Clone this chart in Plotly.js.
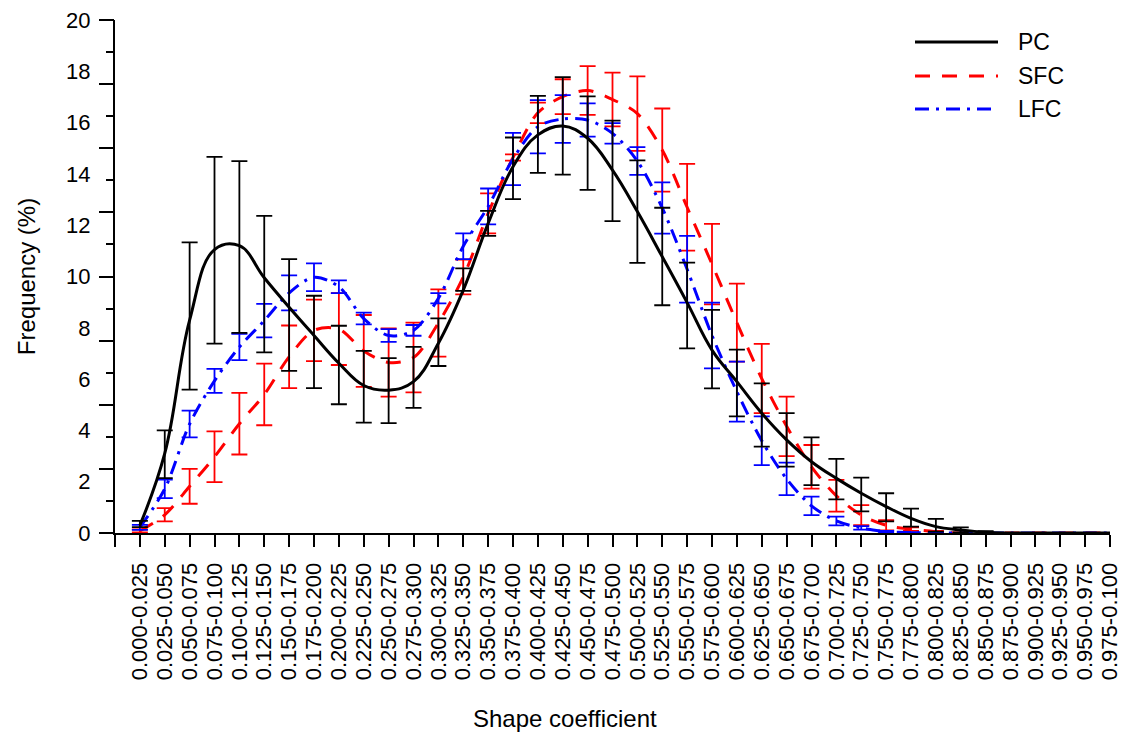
<!DOCTYPE html>
<html>
<head>
<meta charset="utf-8">
<script src="https://cdn.plot.ly/plotly-3.0.1.min.js"></script>
<style>
html,body{margin:0;padding:0;background:#fff;}
#chart{width:1126px;height:733px;}
</style>
</head>
<body>
<div id="chart"></div>
<script>
// Category labels (shape coefficient bins)
const categories = [
  "0.000-0.025","0.025-0.050","0.050-0.075","0.075-0.100","0.100-0.125",
  "0.125-0.150","0.150-0.175","0.175-0.200","0.200-0.225","0.225-0.250",
  "0.250-0.275","0.275-0.300","0.300-0.325","0.325-0.350","0.350-0.375",
  "0.375-0.400","0.400-0.425","0.425-0.450","0.450-0.475","0.475-0.500",
  "0.500-0.525","0.525-0.550","0.550-0.575","0.575-0.600","0.600-0.625",
  "0.625-0.650","0.650-0.675","0.675-0.700","0.700-0.725","0.725-0.750",
  "0.750-0.775","0.775-0.800","0.800-0.825","0.825-0.850","0.850-0.875",
  "0.875-0.900","0.900-0.925","0.925-0.950","0.950-0.975","0.975-0.100"
];

// PC series: mean frequency (%) with error, and the fitted smooth curve
const pcMean = [0.35,3.07,8.46,11.02,11.15,9.7,8.5,7.45,6.55,5.7,
                5.55,6.07,7.44,9.88,12.07,14.22,15.54,15.87,15.2,14.12,
                12.53,10.78,8.87,7.17,5.85,4.6,3.63,2.8,2.1,1.5,
                1.0,0.6,0.3,0.12,0.04,0,0,0,0,0];
const pcErr  = [0.12,0.93,2.87,3.64,3.35,2.66,2.18,1.8,1.53,1.4,
                1.27,1.19,0.93,0.44,0.49,1.2,1.5,1.9,1.82,1.96,
                2.0,1.9,1.67,1.53,1.3,1.23,1.04,0.93,0.79,0.66,
                0.55,0.35,0.25,0.1,0.03,0,0,0,0,0];
const pcCurve = [0.3,3.1,8.3,11.05,11.2,9.95,8.8,7.7,6.62,5.75,
                 5.57,5.9,7.4,9.47,12.07,14.28,15.52,15.87,15.39,14.15,
                 12.53,10.77,8.98,7.13,5.9,4.67,3.63,2.78,2.13,1.55,
                 1.03,0.57,0.25,0.12,0.03,0,0,0,0,0];

// SFC series
const sfcMean = [0.08,0.71,1.82,2.97,4.26,5.4,6.87,7.9,7.95,7.1,
                 6.65,6.84,8.19,9.98,12.46,14.64,16.38,17.01,17.25,16.9,
                 16.35,14.93,12.7,10.48,8.2,6.02,4.16,2.58,1.45,0.7,
                 0.3,0.15,0.05,0,0,0,0,0,0,0];
const sfcErr  = [0.06,0.26,0.68,0.99,1.2,1.2,1.22,1.2,1.4,1.4,
                 1.33,1.36,1.31,0.68,0.78,0.12,0.4,0.68,0.95,1.05,
                 1.45,1.62,1.69,1.57,1.52,1.35,1.16,0.85,0.62,0.39,
                 0.2,0.07,0.03,0,0,0,0,0,0,0];

// LFC series
const lfcMean = [0.22,1.72,4.25,5.93,7.25,8.28,9.36,9.97,9.6,8.36,
                 7.7,7.9,9.15,11.18,12.73,14.58,15.84,16.14,16.1,15.58,
                 14.5,12.67,10.28,7.7,5.51,3.6,2.11,1.06,0.47,0.2,
                 0.05,0.02,0,0,0,0,0,0,0,0];
const lfcErr  = [0.1,0.36,0.52,0.47,0.51,0.65,0.68,0.54,0.25,0.23,
                 0.25,0.21,0.2,0.5,0.7,1.02,1.04,0.93,0.65,0.4,
                 0.54,1.0,1.3,1.28,1.17,0.95,0.63,0.36,0.17,0.07,
                 0.03,0.01,0,0,0,0,0,0,0,0];

const seriesNames = ["PC","SFC","LFC"];
const yTickLabels = [0,2,4,6,8,10,12,14,16,18,20];

const idx = categories.map((_, i) => i);
const FONT = "Arial, 'Liberation Sans', sans-serif";

function lineTrace(name, vals, color, dash, smooth) {
  return {
    type: "scatter", mode: "lines", name: name, x: idx, y: vals,
    line: {color: color, width: 3, dash: dash, shape: "spline", smoothing: smooth},
    showlegend: false, hoverinfo: "x+y"
  };
}
function errTrace(name, mean, err, color) {
  return {
    type: "scatter", mode: "markers", name: name, x: idx, y: mean,
    marker: {size: 1, opacity: 0, color: color},
    error_y: {type: "data", array: err, visible: true, color: color, thickness: 1.8, width: 8},
    showlegend: false, hoverinfo: "x+y"
  };
}

const RED = "#ff0000", BLUE = "#0000ff", BLACK = "#000000";
const DASH_SFC = "15px,12px", DASH_LFC = "14px,7px,3px,7px";

const traces = [
  errTrace(seriesNames[1], sfcMean, sfcErr, RED),
  lineTrace(seriesNames[1], sfcMean, RED, DASH_SFC, 0.9),
  errTrace(seriesNames[2], lfcMean, lfcErr, BLUE),
  lineTrace(seriesNames[2], lfcMean, BLUE, DASH_LFC, 0.9),
  errTrace(seriesNames[0], pcMean, pcErr, BLACK),
  lineTrace(seriesNames[0], pcCurve, BLACK, "solid", 1.15),
  {type: "scatter", mode: "lines", x: [], y: [], yaxis: "y2", showlegend: false, hoverinfo: "skip"}
];

// manual legend (paper coords)
const L = 115, R = 1110, T = 20, B = 533;
const px = v => (v - L) / (R - L);
const py = v => (B - v) / (B - T);
const legRows = [
  {name: seriesNames[0], color: BLACK, dash: "solid", y: 42},
  {name: seriesNames[1], color: RED, dash: DASH_SFC, y: 76},
  {name: seriesNames[2], color: BLUE, dash: DASH_LFC, y: 109}
];
const shapes = legRows.map(r => ({
  type: "line", xref: "paper", yref: "paper",
  x0: px(915), x1: px(998), y0: py(r.y), y1: py(r.y),
  line: {color: r.color, width: 3, dash: r.dash}
}));
const annotations = legRows.map(r => ({
  xref: "paper", yref: "paper", x: px(1016), y: py(r.y),
  xanchor: "left", yanchor: "middle", showarrow: false,
  text: r.name, font: {family: FONT, size: 23, color: "#000"}
}));
annotations.push({
  xref: "paper", yref: "paper", x: px(565), y: py(718),
  xanchor: "center", yanchor: "middle", showarrow: false,
  text: "Shape coefficient", font: {family: FONT, size: 24, color: "#000"}
});

const layout = {
  width: 1126, height: 733,
  margin: {l: L, r: 1126 - R, t: T, b: 733 - B, pad: 0},
  paper_bgcolor: "#fff", plot_bgcolor: "#fff",
  font: {family: FONT, color: "#000"},
  showlegend: false,
  xaxis: {
    range: [-1, 39], tickmode: "array",
    tickvals: [-1].concat(idx), ticktext: [""].concat(categories),
    tickangle: -90, ticks: "outside", ticklen: 12, tickwidth: 2, tickcolor: "#000",
    ticklabelstandoff: 7,
    tickfont: {family: FONT, size: 22, color: "#000"},
    showline: true, linewidth: 2, linecolor: "#000",
    showgrid: false, zeroline: false, fixedrange: true
  },
  yaxis: {
    range: [0, 20], tickmode: "array", tickvals: yTickLabels,
    ticktext: yTickLabels.map(String),
    ticks: "outside", ticklen: 18, tickcolor: "rgba(0,0,0,0)",
    tickfont: {family: FONT, size: 22, color: "#000"},
    showline: true, linewidth: 2, linecolor: "#000",
    showgrid: false, zeroline: false, fixedrange: true,
    title: {text: "Frequency (%)", font: {family: FONT, size: 24, color: "#000"}, standoff: 24}
  },
  yaxis2: {
    overlaying: "y", anchor: "x", side: "left",
    range: [0, 20], tickmode: "linear", tick0: 0, dtick: 2.5,
    ticks: "outside", ticklen: 15, tickwidth: 2, tickcolor: "#000",
    showticklabels: false, showline: false, showgrid: false, zeroline: false,
    minor: {ticks: "outside", tick0: 0, dtick: 1.25, ticklen: 8, tickwidth: 2, tickcolor: "#000"},
    fixedrange: true
  },
  shapes: shapes,
  annotations: annotations
};

Plotly.newPlot("chart", traces, layout, {displayModeBar: false, staticPlot: true});
</script>
</body>
</html>
